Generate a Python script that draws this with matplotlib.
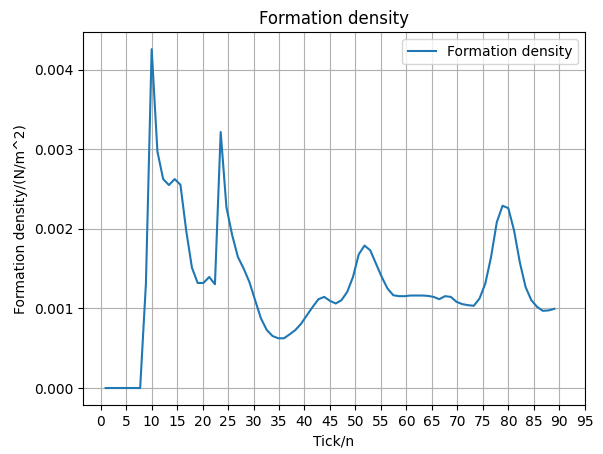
import numpy as np
import matplotlib
matplotlib.use('Agg')
import matplotlib.pyplot as plt

# sample positions (79 evenly spaced samples from tick 1 to 89)
ticks = np.linspace(1, 89, 79)

density = [0, 0, 0, 0, 0, 0, 0, 1.31e-3, 4.257e-3, 2.97e-3,
           2.625e-3, 2.55e-3, 2.625e-3, 2.554e-3, 1.98e-3, 1.512e-3, 1.32e-3, 1.32e-3, 1.395e-3, 1.304e-3,
           3.216e-3, 2.27e-3, 1.92e-3, 1.645e-3, 1.50e-3, 1.33e-3, 1.10e-3, 0.875e-3, 0.73e-3, 0.654e-3,
           0.625e-3, 0.625e-3, 0.675e-3, 0.73e-3, 0.81e-3, 0.916e-3, 1.02e-3, 1.116e-3, 1.145e-3, 1.095e-3,
           1.062e-3, 1.104e-3, 1.208e-3, 1.395e-3, 1.679e-3, 1.79e-3, 1.73e-3, 1.562e-3, 1.395e-3, 1.25e-3,
           1.166e-3, 1.154e-3, 1.154e-3, 1.162e-3, 1.162e-3, 1.162e-3, 1.158e-3, 1.145e-3, 1.116e-3, 1.154e-3,
           1.145e-3, 1.083e-3, 1.054e-3, 1.041e-3, 1.033e-3, 1.125e-3, 1.312e-3, 1.645e-3, 2.083e-3, 2.29e-3,
           2.26e-3, 1.98e-3, 1.58e-3, 1.27e-3, 1.104e-3, 1.02e-3, 0.97e-3, 0.975e-3, 0.995e-3]

fig = plt.figure(figsize=(6.03, 4.54), dpi=100)
ax = fig.add_axes([0.138, 0.108, 0.832, 0.821])

ax.plot(ticks, density, label='Formation density')
ax.set_xticks(range(0, 100, 5))
ax.set_title('Formation density')
ax.set_xlabel('Tick/n')
ax.set_ylabel('Formation density/(N/m^2)')
ax.legend(loc='upper right')
ax.grid(True)

fig.savefig('out.png', dpi=100)
